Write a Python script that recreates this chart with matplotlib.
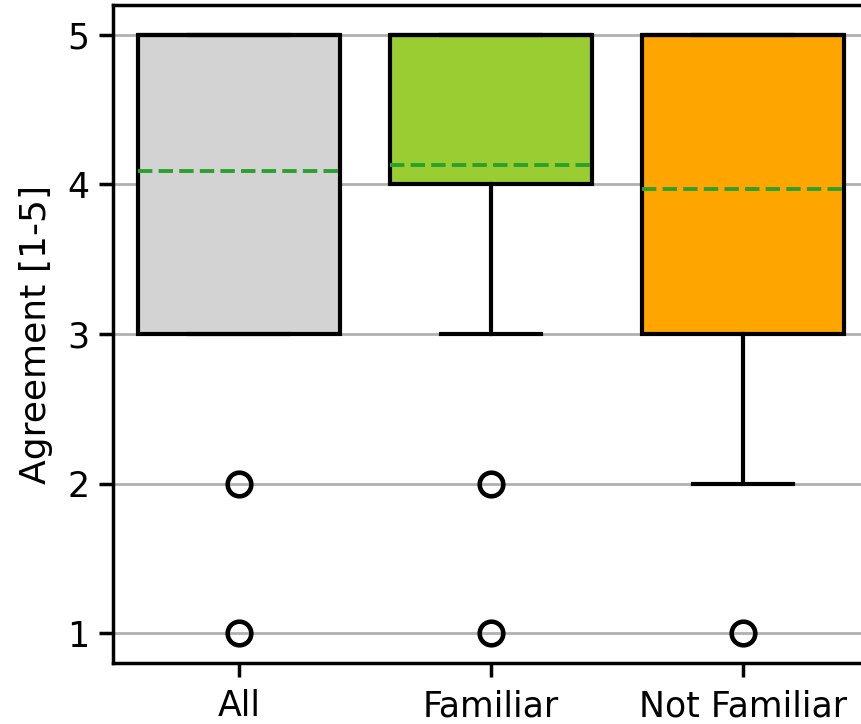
import matplotlib
matplotlib.use('Agg')
import matplotlib.pyplot as plt

# box statistics (agreement scale 1-5)
groups = ['All', 'Familiar', 'Not Familiar']
q1 = [3, 4, 3]
q3 = [5, 5, 5]
medians = [5, 5, 5]
means = [4.09, 4.13, 3.97]
whisker_lo = [3, 3, 2]
whisker_hi = [5, 5, 5]
fliers = [[2, 1], [2, 1], [1]]
box_colors = ['lightgray', 'yellowgreen', 'orange']

stats = [
    dict(label=groups[i], q1=q1[i], q3=q3[i], med=medians[i], mean=means[i],
         whislo=whisker_lo[i], whishi=whisker_hi[i], fliers=fliers[i])
    for i in range(len(groups))
]

fig = plt.figure(figsize=(8.62, 7.24), dpi=100)
ax = fig.add_axes([113 / 862, 61 / 724, 756 / 862, 658 / 724])

lw = 3
bp = ax.bxp(stats, widths=0.8, patch_artist=True, showmeans=True, meanline=True,
            boxprops=dict(linewidth=lw, edgecolor='black'),
            whiskerprops=dict(linewidth=lw, color='black'),
            capprops=dict(linewidth=lw, color='black'),
            medianprops=dict(linewidth=lw, color='black'),
            meanprops=dict(linewidth=2.8, color='#2ca02c', linestyle='--'),
            flierprops=dict(marker='o', markerfacecolor='none', markeredgecolor='black',
                            markersize=17, markeredgewidth=3.3))
for patch, c in zip(bp['boxes'], box_colors):
    patch.set_facecolor(c)

ax.set_xlim(0.5, 3.5)
ax.set_ylim(0.8, 5.2)
ax.set_yticks([1, 2, 3, 4, 5])
ax.yaxis.grid(True, color='#b0b0b0', linewidth=2)
ax.set_axisbelow(True)
ax.set_ylabel('Agreement [1-5]', fontsize=26, labelpad=10)
ax.tick_params(labelsize=25, length=10, width=2.5)
ax.tick_params(axis='x', pad=9)
ax.tick_params(axis='y', pad=7)
for s in ax.spines.values():
    s.set_linewidth(2.5)

fig.savefig('out.png', dpi=100)
